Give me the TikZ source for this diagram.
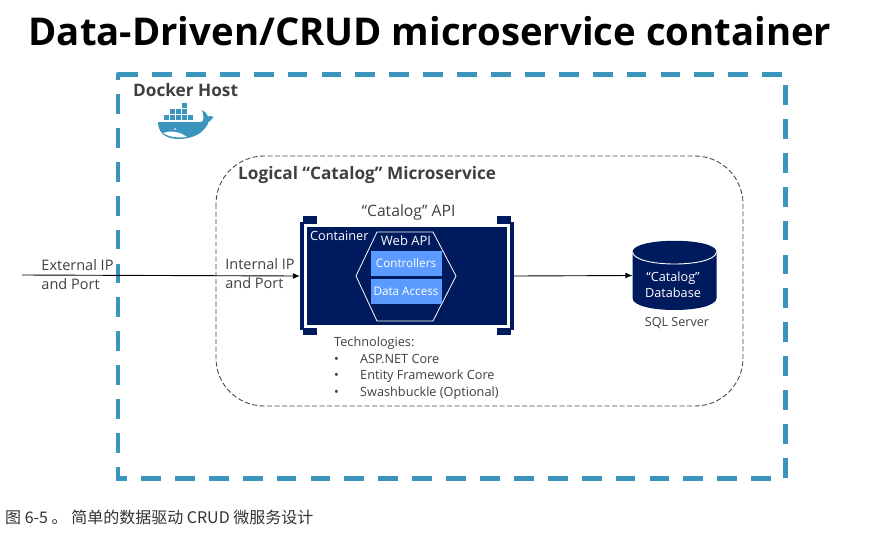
\documentclass[tikz,border=0pt]{standalone}
\usepackage{fontspec}
\setmainfont{Open Sans}
\newfontfamily\cjk{Noto Sans CJK SC}
\usetikzlibrary{shapes.geometric,arrows.meta}
\definecolor{navy}{HTML}{001A5E}
\definecolor{midblue}{HTML}{5B9BFF}
\definecolor{dockblue}{HTML}{3A94BC}
\definecolor{txt}{HTML}{404040}
\tikzset{
  lbl/.style={font=\fontsize{14.5}{19}\selectfont,text=txt,inner sep=0pt,align=left},
  wlbl/.style={font=\fontsize{12.7}{15}\selectfont,text=white,inner sep=0pt},
  conn/.style={draw=black,line width=0.9pt,-{Latex[length=7pt,width=6pt]}},
  tab/.style={fill=navy,draw=none},
  hostline/.style={dockblue,line width=4.6pt,dash pattern=on 19.8pt off 14.1pt},
  inner/.style={fill=midblue,draw=none,minimum width=71pt,minimum height=25pt,inner sep=0pt,text=white,font=\fontsize{11.7}{14}\selectfont},
  headtxt/.style={font=\fontsize{17.2}{20}\selectfont\bfseries,text=txt,inner sep=0pt,anchor=west}
}
\begin{document}
\begin{tikzpicture}[x=1pt,y=-1pt]
\useasboundingbox (0,0) rectangle (870,542);
\fill[white] (0,0) rectangle (870,542);
\node[font=\fontsize{38.3}{42}\selectfont\bfseries,text=black,inner sep=0pt] (title) at (430,31) {Data-Driven/CRUD microservice container};
% host
\draw[hostline] (782,74.5) -- (118,74.5);
\draw[dockblue,line width=4.6pt,line join=round] (118,80) -- (118,74.5) -- (120,74.5);
\draw[hostline] (118,94) -- (118,480.5);
\draw[hostline] (771,478.5) -- (118,478.5);
\draw[hostline] (785.5,85) -- (785.5,479);
\node[headtxt] (host) at (133,90) {Docker Host};
% whale
\begin{scope}[dockblue]
\fill (158,122) -- (197,122) .. controls (200,123) and (202,122) .. (204,120) -- (209,121) .. controls (205,133) and (193,139) .. (178,139) .. controls (165,139) and (158,132) .. (158,122) -- cycle;
\fill (203,122) .. controls (204,117) and (203,113) .. (202,110) .. controls (205,111) and (207,114) .. (208,116.5) .. controls (210,115.5) and (212,116) .. (213.5,117) .. controls (212,120) and (209,122) .. (206,123) -- cycle;
\foreach \x/\y in {164/115,170/115,176/115,182/115,188/115,170/109,176/109,182/109,182/103}{
  \fill (\x,\y) rectangle +(5,5);
}
\fill[white] (163,133) .. controls (172,130) and (180,132) .. (187,137) .. controls (177,138) and (169,137) .. (163,133) -- cycle;
\fill[white] (175,129) circle (0.9);
\end{scope}
% microservice
\draw[black!70,line width=0.9pt,dash pattern=on 5pt off 2.5pt,rounded corners=48pt] (216,156) rectangle (743,406);
\node[headtxt] (ms) at (238,175) {Logical “Catalog” Microservice};
% container
\node[lbl,font=\fontsize{15.7}{18}\selectfont] (api) at (408.5,212) {“Catalog” API};
\node[fill=navy,draw=none,minimum width=214pt,minimum height=108pt,inner sep=0pt] (outer) at (407,276) {};
\fill[white] (303.5,221) rectangle (510,331);
\fill[tab] (303,216) rectangle (317,224);
\fill[tab] (497,216) rectangle (511,224);
\fill[tab] (303,328) rectangle (317,335);
\fill[tab] (497,328) rectangle (511,335);
\fill[navy] (306.5,227) rectangle (507,325);
\node[wlbl,anchor=west] (ct) at (310,235.5) {Container};
\draw[white,line width=0.8pt] (356,276) -- (377,232) -- (433,232) -- (456,276) -- (433,321) -- (377,321) -- cycle;
\node[wlbl,font=\fontsize{13}{16}\selectfont] (web) at (406,241) {Web API};
\node[inner] (ctrl) at (406,263.5) {Controllers};
\node[inner] (da) at (406,291.5) {Data Access};
% db
\node[minimum width=84pt,minimum height=69pt,inner sep=0pt] (db) at (674.5,275.5) {};
\fill[navy] (632.5,252) .. controls (632.5,237) and (716.5,237) .. (716.5,252) -- (716.5,298) .. controls (716.5,314) and (632.5,314) .. (632.5,298) -- cycle;
\draw[white,line width=0.9pt] (632.5,252) .. controls (634,268) and (715,268) .. (716.5,252);
\node[wlbl,font=\fontsize{12.7}{16}\selectfont,align=center] (dbt) at (673,285) {“Catalog”\\Database};
\node[lbl,font=\fontsize{12.6}{15}\selectfont] (sql) at (677,323) {SQL Server};
% connectors
\coordinate (ext) at (22,275);
\draw[conn] (ext) -- (outer.west);
\draw[conn] (outer.east) -- (db.west);
\node[lbl] (extl) at (77.5,275) {External IP\\and Port};
\node[lbl] (intl) at (260,274) {Internal IP\\and Port};
\node[lbl,font=\fontsize{12.7}{16.4}\selectfont,anchor=north west] (tech) at (334,337) {Technologies:\\
\makebox[26pt][l]{•}ASP.NET Core\\
\makebox[26pt][l]{•}Entity Framework Core\\
\makebox[26pt][l]{•}Swashbuckle (Optional)};
\node[font=\cjk\fontsize{16}{18}\selectfont,text=black!80,inner sep=0pt,anchor=west] (cap) at (5,517) {图 6-5 。 简单的数据驱动 CRUD 微服务设计};
\end{tikzpicture}
\end{document}
